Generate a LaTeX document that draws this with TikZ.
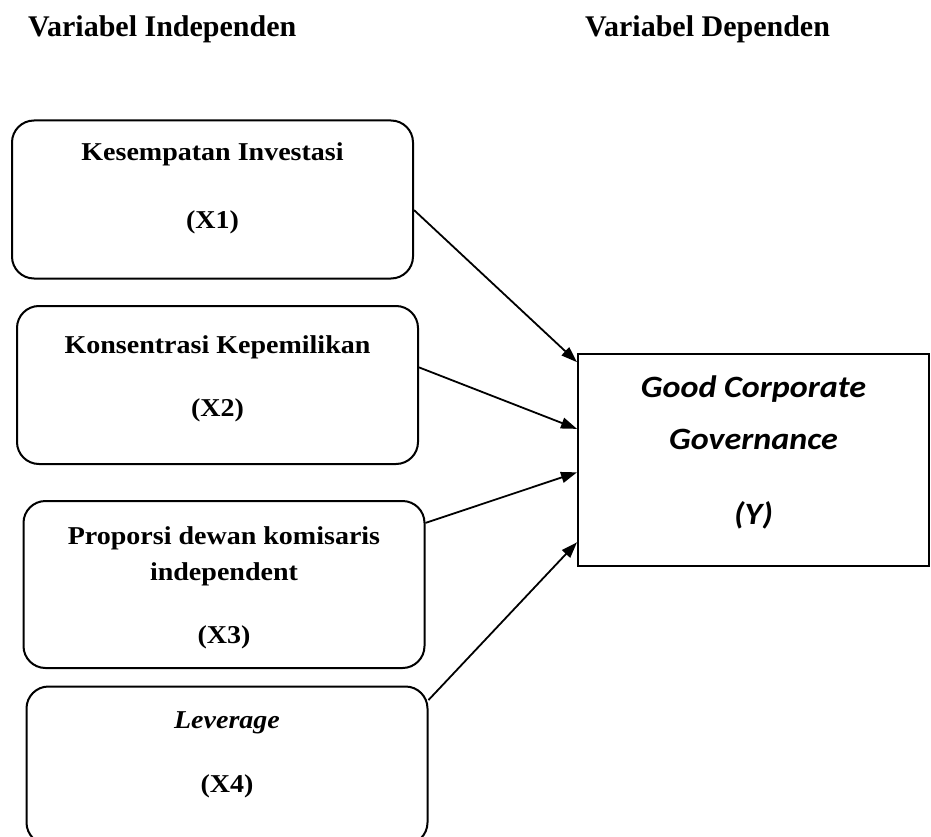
\documentclass[tikz,border=0pt]{standalone}
\usepackage{fontspec}
\setmainfont{Liberation Serif}
\newfontfamily\boxfont[FakeStretch=1.09]{Liberation Serif}
\newfontfamily\calibfont[FakeStretch=1.1]{Carlito}
\usetikzlibrary{positioning,arrows.meta}

\tikzset{
    varbox/.style={draw, line width=2pt, rounded corners=22pt, inner sep=0pt,
        minimum width=401pt, minimum height=158pt},
    ybox/.style={draw, line width=2pt, inner sep=0pt,
        minimum width=351pt, minimum height=212pt},
    vartext/.style={align=center, inner sep=0pt, font=\fontsize{25.7}{36}\selectfont\boxfont\bfseries},
    ytext/.style={align=center, inner sep=0pt, font=\fontsize{31}{52}\selectfont\calibfont\bfseries\itshape},
    headtext/.style={anchor=base west, inner sep=0pt, font=\fontsize{30}{34}\selectfont\bfseries},
    arr/.style={->, line width=1.8pt}
}

\begin{document}
\begin{tikzpicture}[x=1pt, y=-1pt, >={Triangle[length=16pt,width=11pt]}]
                \useasboundingbox (0,0) rectangle (931,837);
                \clip (0,0) rectangle (931,837);

                % judul kolom
                \node[headtext] (hind) at (28,37) {Variabel Independen};
                \node[headtext] (hdep) at (585,37) {Variabel Dependen};

                % variabel independen
                \node[varbox] (x1) at (212.5,199.5) {};
                \node[varbox] (x2) at (217.5,385) {};
                \node[varbox, minimum height=167pt] (x3) at (224,584.5) {};
                \node[varbox] (x4) at (227,765.5) {};

                \node[vartext, below=23pt of x1.north] (t1) {Kesempatan Investasi\\[32pt](X1)};
                \node[vartext, below=30pt of x2.north] (t2) {Konsentrasi Kepemilikan\\[27pt](X2)};
                \node[vartext, below=26pt of x3.north] (t3) {Proporsi dewan komisaris\\independent\\[27pt](X3)};
                \node[vartext, below=26pt of x4.north] (t4) {\textit{Leverage}\\[28pt](X4)};

                % variabel dependen
                \node[ybox] (y) at (753.5,460) {};
                \node[ytext, below=23pt of y.north] (ty) {Good Corporate\\Governance\\[23pt](Y)};

                \draw[arr] (x1.-3.6) -- (y.151.7);
                \draw[arr] (x2.5.1) -- (y.170.4);
                \draw[arr] (x3.17.5) -- (y.184.9);
                \draw[arr] (x4.18.6) -- (y.205.7);
            \end{tikzpicture}
\end{document}
